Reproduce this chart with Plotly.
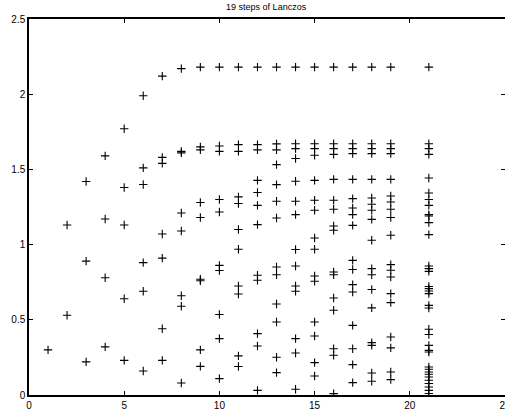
import plotly.graph_objects as go

# Ritz values after each Lanczos step (x = step), plus true eigenvalues at x = 21
step1 = [0.30]
step2 = [0.53, 1.13]
step3 = [0.22, 0.89, 1.42]
step4 = [0.32, 0.78, 1.17, 1.59]
step5 = [0.23, 0.64, 1.13, 1.38, 1.77]
step6 = [0.16, 0.69, 0.88, 1.40, 1.51, 1.99]
step7 = [0.23, 0.44, 0.91, 1.07, 1.54, 1.58, 2.12]
step8 = [0.08, 0.59, 0.66, 1.09, 1.21, 1.61, 1.62, 2.17]
step9 = [0.19, 0.30, 0.76, 0.77, 1.18, 1.28, 1.63, 1.65, 2.18]
step10 = [0.109, 0.375, 0.535, 0.828, 0.862, 1.217, 1.30, 1.62, 1.656, 2.18]
step11 = [0.189, 0.26, 0.672, 0.725, 0.969, 1.10, 1.273, 1.317, 1.62, 1.665, 2.18]
step12 = [0.031, 0.326, 0.408, 0.763, 0.796, 1.133, 1.261, 1.346, 1.427, 1.63, 1.665, 2.18]
step13 = [0.149, 0.251, 0.485, 0.605, 0.80, 0.851, 1.177, 1.288, 1.399, 1.532, 1.63, 1.67, 2.18]
step14 = [0.038, 0.279, 0.375, 0.69, 0.725, 0.858, 0.967, 1.199, 1.288, 1.421, 1.572, 1.638, 1.671, 2.18]
step15 = [0.126, 0.215, 0.392, 0.485, 0.756, 0.791, 0.969, 1.044, 1.228, 1.295, 1.427, 1.594, 1.638, 1.671, 2.18]
step16 = [0.009, 0.264, 0.308, 0.563, 0.645, 0.80, 0.818, 1.095, 1.124, 1.235, 1.295, 1.434, 1.60, 1.638, 1.671, 2.18]
step17 = [0.082, 0.202, 0.308, 0.463, 0.685, 0.734, 0.834, 0.895, 1.128, 1.199, 1.243, 1.306, 1.434, 1.605, 1.638, 1.671, 2.18]
step18 = [0.091, 0.146, 0.330, 0.348, 0.579, 0.701, 0.80, 0.840, 1.029, 1.168, 1.228, 1.268, 1.31, 1.434, 1.605, 1.638, 1.671, 2.18]
step19 = [0.102, 0.153, 0.313, 0.386, 0.614, 0.674, 0.785, 0.829, 0.867, 1.062, 1.18, 1.235, 1.283, 1.323, 1.434, 1.605, 1.638, 1.671, 2.18]
eigenvalues = [0.01, 0.031, 0.053, 0.076, 0.098, 0.12, 0.138, 0.153, 0.171, 0.186,
               0.286, 0.297, 0.330, 0.402, 0.437, 0.578, 0.596,
               0.674, 0.691, 0.707, 0.721, 0.822, 0.840, 0.858,
               1.066, 1.146, 1.19, 1.199, 1.261, 1.30, 1.343, 1.443,
               1.60, 1.638, 1.671, 2.18]

steps = [step1, step2, step3, step4, step5, step6, step7, step8, step9, step10,
         step11, step12, step13, step14, step15, step16, step17, step18, step19]
eig_x = 21

xs, ys = [], []
for k, vals in enumerate(steps, start=1):
    xs += [k] * len(vals)
    ys += vals
xs += [eig_x] * len(eigenvalues)
ys += eigenvalues

fig = go.Figure(go.Scatter(
    x=xs, y=ys, mode="markers",
    marker=dict(symbol="cross-thin", size=6, color="black",
                line=dict(color="black", width=1.1)),
    hoverinfo="skip",
))

axis_common = dict(
    showgrid=False, zeroline=False, showline=True, linecolor="black",
    linewidth=1.5, mirror="ticks", ticks="inside", ticklen=4,
    tickcolor="black", ticklabeloverflow="allow", automargin=False,
    tickfont=dict(family="Liberation Sans, Arial", size=10, color="black"),
)

fig.update_layout(
    width=505, height=414,
    margin=dict(l=29, r=0, t=19, b=19, pad=0, autoexpand=False),
    paper_bgcolor="white", plot_bgcolor="white",
    showlegend=False,
    title=dict(text="19 steps of Lanczos", x=0.527, xanchor="center",
               y=0.99, yanchor="top",
               font=dict(family="Liberation Sans, Arial", size=9, color="black")),
    xaxis=dict(range=[0, 25], tickvals=[0, 5, 10, 15, 20, 25], **axis_common),
    yaxis=dict(range=[0, 2.5], tickvals=[0, 0.5, 1, 1.5, 2, 2.5],
               ticktext=["0", "0.5", "1", "1.5", "2", "2.5"], **axis_common),
)

fig.write_html("out.html", config={"displayModeBar": False},
               post_script="document.body.style.margin='0';document.body.style.overflow='hidden';")
